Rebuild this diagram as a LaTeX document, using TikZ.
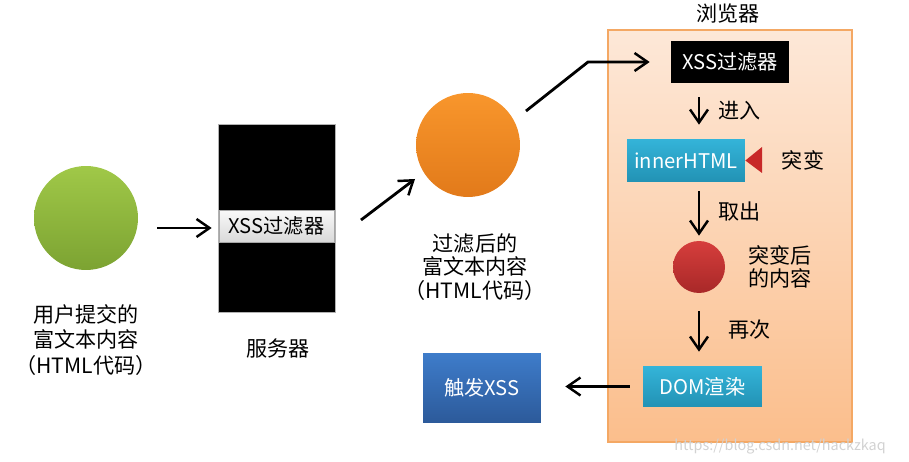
\documentclass[tikz,border=0pt]{standalone}
\usepackage{fontspec}
\newfontfamily\cjk{Noto Sans CJK SC}
\usetikzlibrary{arrows.meta}
\definecolor{brw}{RGB}{253,232,216}
\definecolor{brwb}{RGB}{251,190,140}
\definecolor{brwl}{RGB}{244,168,100}
\definecolor{cyT}{RGB}{52,180,217}
\definecolor{cyB}{RGB}{34,146,180}
\definecolor{blT}{RGB}{62,124,202}
\definecolor{blB}{RGB}{44,90,154}
\definecolor{mutR}{RGB}{200,40,40}

\begin{document}
\begin{tikzpicture}[
    x=0.02cm, y=-0.02cm,
    >={Straight Barb[length=2.6mm,width=3.6mm,line width=1.4pt]},
    arr/.style={->, line width=1.6pt, black},
    ball/.style={circle, inner sep=0pt, minimum size=#1},
    blk/.style={rectangle, fill=black, text=white, inner sep=0pt, font=\cjk\fontsize{11.5}{14}\selectfont},
    cyan/.style={rectangle, top color=cyT, bottom color=cyB, text=white, inner sep=0pt, font=\cjk\fontsize{11.5}{14}\selectfont},
    tag/.style={font=\cjk\fontsize{12}{15}\selectfont, align=center, inner sep=0pt},
  ]
  \useasboundingbox (0,0) rectangle (909,462);

  %% ---------------- left: user input and server ----------------
  \node[ball=2.08cm, top color={rgb,255:red,160;green,200;blue,72}, bottom color={rgb,255:red,124;green,163;blue,50}] (usr) at (86,218) {};
  \node[tag, font=\cjk\fontsize{12}{14.5}\selectfont] (usrtxt) at (86,340) {用户提交的\\富文本内容\\（HTML代码）};

  \node[rectangle, fill=black, draw=gray!60, line width=0.4pt, minimum width=2.34cm, minimum height=3.76cm] (srv) at (276.5,218) {};
  \node[rectangle, top color=gray!5, bottom color=gray!30, draw=gray!70, line width=0.4pt, minimum width=2.3cm, minimum height=0.64cm, inner sep=0pt, font=\cjk\fontsize{11.5}{14}\selectfont] (sflt) at (276.5,226) {XSS过滤器};
  \node[tag] (srvtxt) at (278,348) {服务器};

  \coordinate (a1s) at (157,228);
  \draw[arr, shorten >=0.12cm] (a1s) -- (a1s -| srv.west);

  %% ---------------- middle: filtered content ----------------
  \node[ball=2.08cm, top color={rgb,255:red,248;green,150;blue,44}, bottom color={rgb,255:red,226;green,122;blue,26}] (flt) at (468,145) {};
  \node[tag, font=\cjk\fontsize{12}{13.2}\selectfont] (flttxt) at (475,267) {过滤后的\\富文本内容\\（HTML代码）};

  \coordinate (a2s) at (361,220);
  \coordinate (a2e) at (415,179);
  \draw[arr] (a2s) -- (a2e);

  %% ---------------- right: browser ----------------
  \node[rectangle, top color=brw, bottom color=brwb, draw=brwl, line width=0.8pt, minimum width=4.88cm, minimum height=8.24cm] (brws) at (730,236) {};
  \node[tag] (brwstxt) at (728,14) {浏览器};

  \node[blk, minimum width=2.36cm, minimum height=0.84cm] (bflt) at (730,62) {XSS过滤器};
  \node[cyan, minimum width=2.36cm, minimum height=0.86cm] (inner) at (686,160.5) {innerHTML};
  \node[ball=1.04cm, top color={rgb,255:red,214;green,62;blue,60}, bottom color={rgb,255:red,168;green,40;blue,40}] (mut) at (699,267) {};
  \node[cyan, minimum width=2.38cm, minimum height=0.82cm] (dom) at (702.5,386.5) {DOM渲染};
  \node[rectangle, top color=blT, bottom color=blB, text=white, inner sep=0pt, minimum width=2.36cm, minimum height=1.4cm, font=\cjk\fontsize{11.5}{14}\selectfont] (trig) at (482,388) {触发XSS};

  \fill[mutR] (inner.east) -- (762,147) -- (762,173) -- cycle;
  \node[tag] (muttxt) at (803,160) {突变};
  \node[tag, font=\cjk\fontsize{12}{13.5}\selectfont] (mutctxt) at (780,267) {突变后\\的内容};

  \coordinate (a3s) at (526,111);
  \coordinate (a3m) at (588,62);
  \draw[arr, shorten >=0.42cm] (a3s) -- (a3m) -- (a3m -| bflt.west);

  \draw[arr, shorten <=0.28cm, shorten >=0.28cm] (bflt.south -| mut) -- (inner.north -| mut)
    node[midway, right=0.36cm, tag] {进入};
  \draw[arr, shorten <=0.18cm, shorten >=0.1cm] (inner.south -| mut) -- (mut.north)
    node[midway, right=0.36cm, tag] {取出};
  \draw[arr, shorten <=0.36cm, shorten >=0.28cm] (mut.south) -- (dom.north -| mut)
    node[midway, right=0.56cm, tag] {再次};
  \draw[arr, shorten <=0.26cm, shorten >=0.48cm] (dom.west) -- (dom.west -| trig.east);

  \node[font=\cjk\fontsize{8.2}{10}\selectfont, text=gray!35, inner sep=0pt] (wmark) at (780,447) {https://blog.csdn.net/hackzkaq};
\end{tikzpicture}
\end{document}
